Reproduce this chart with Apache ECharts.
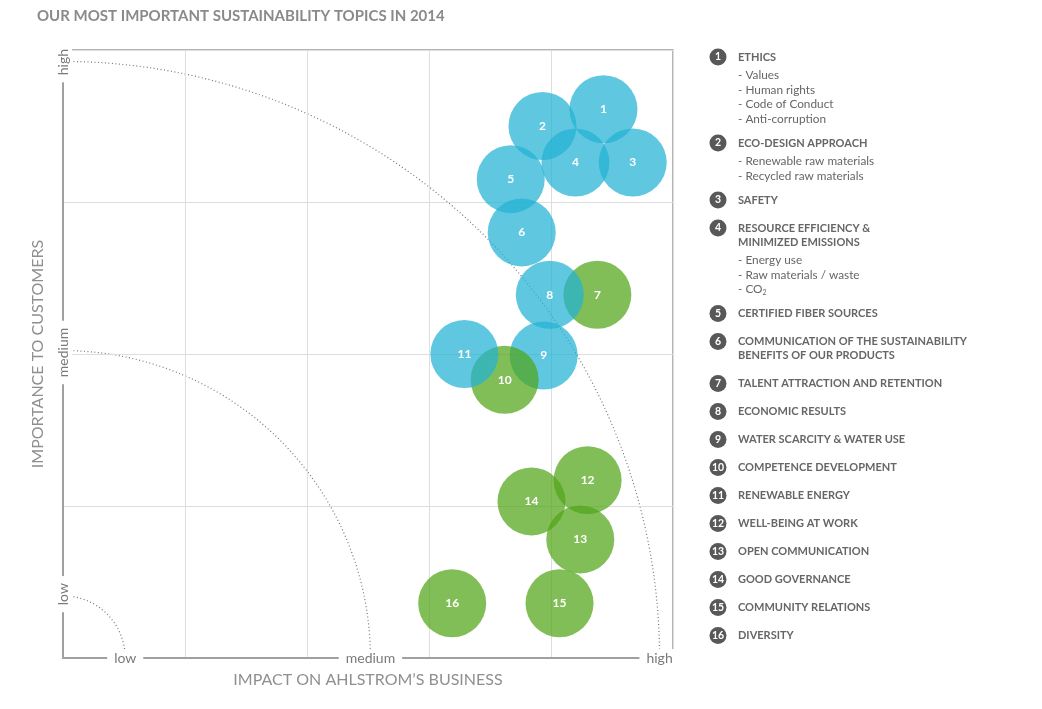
<!DOCTYPE html>
<html>
<head>
<meta charset="utf-8">
<title>Sustainability topics 2014</title>
<script src="https://cdn.jsdelivr.net/npm/echarts@6/dist/echarts.min.js"></script>
<style>
  html, body { margin: 0; padding: 0; background: #fff; }
  #main { width: 1042px; height: 709px; }
</style>
</head>
<body>
<div id="main"></div>
<script>
// 话题编号与坐标（x: 对业务的影响, y: 对客户的重要性）
const topicIds = [1, 2, 3, 4, 5, 6, 7, 8, 9, 10, 11, 12, 13, 14, 15, 16]
const impact = [4.43, 3.93, 4.67, 4.20, 3.67, 3.76, 4.38, 3.99, 3.94, 3.62, 3.29, 4.30, 4.24, 3.84, 4.07, 3.19]
const importance = [3.61, 3.50, 3.26, 3.26, 3.15, 2.80, 2.39, 2.39, 1.99, 1.83, 2.00, 1.17, 0.78, 1.03, 0.36, 0.36]
const topicGroup = ['blue', 'blue', 'blue', 'blue', 'blue', 'blue', 'green', 'blue',
  'blue', 'green', 'blue', 'green', 'green', 'green', 'green', 'green']
// 右侧说明
const topicTitles = [
  ['ETHICS'],
  ['ECO-DESIGN APPROACH'],
  ['SAFETY'],
  ['RESOURCE EFFICIENCY &', 'MINIMIZED EMISSIONS'],
  ['CERTIFIED FIBER SOURCES'],
  ['COMMUNICATION OF THE SUSTAINABILITY', 'BENEFITS OF OUR PRODUCTS'],
  ['TALENT ATTRACTION AND RETENTION'],
  ['ECONOMIC RESULTS'],
  ['WATER SCARCITY & WATER USE'],
  ['COMPETENCE DEVELOPMENT'],
  ['RENEWABLE ENERGY'],
  ['WELL-BEING AT WORK'],
  ['OPEN COMMUNICATION'],
  ['GOOD GOVERNANCE'],
  ['COMMUNITY RELATIONS'],
  ['DIVERSITY']
]
const topicDetails = [
  ['- Values', '- Human rights', '- Code of Conduct', '- Anti-corruption'],
  ['- Renewable raw materials', '- Recycled raw materials'],
  [],
  ['- Energy use', '- Raw materials / waste', '- CO{sub|2}'],
  [], [], [], [], [], [], [], [], [], [], [], []
]
// 轴上的 low / medium / high
const levelNames = ['low', 'medium', 'high']
const xLevelPos = [0.51, 2.52, 4.89]
const yLevelPos = [0.42, 2.01, 3.92]

const groupColor = {
  blue: 'rgba(35,178,212,0.72)',
  green: 'rgba(81,165,24,0.72)'
}
const font = 'Lato, "Open Sans", sans-serif'

const chart = echarts.init(document.getElementById('main'))

const levelLabel = (posList) => ({
  customValues: posList,
  formatter: function (v) {
    const i = posList.indexOf(v)
    return i < 0 ? '' : levelNames[i]
  },
  margin: -9,
  backgroundColor: '#fff',
  padding: [2, 7],
  color: '#7a7a7a',
  fontSize: 14,
  fontFamily: font
})

const option = {
  animation: false,
  title: {
    text: 'OUR MOST IMPORTANT SUSTAINABILITY TOPICS IN 2014',
    left: 32,
    top: 4,
    textStyle: { fontFamily: font, fontSize: 15, fontWeight: 'bold', color: '#8a8a8a' }
  },
  grid: {
    left: 63, right: 369, top: 50, bottom: 51,
    show: true,
    borderColor: '#9c9c9c',
    borderWidth: 1.5
  },
  xAxis: {
    type: 'value',
    min: 0, max: 5, interval: 1,
    name: 'IMPACT ON AHLSTROM\u2019S BUSINESS',
    nameLocation: 'middle',
    nameGap: 11,
    nameTextStyle: { fontFamily: font, fontSize: 16, color: '#8f8f8f' },
    axisLine: { show: true, lineStyle: { color: '#a0a0a0', width: 2 } },
    axisTick: { show: false },
    splitLine: { show: true, lineStyle: { color: '#dedede', width: 1 } },
    axisLabel: levelLabel(xLevelPos)
  },
  yAxis: {
    type: 'value',
    min: 0, max: 4, interval: 1,
    name: 'IMPORTANCE TO CUSTOMERS',
    nameLocation: 'middle',
    nameGap: 8,
    nameTextStyle: { fontFamily: font, fontSize: 16, color: '#8f8f8f' },
    axisLine: { show: true, lineStyle: { color: '#a0a0a0', width: 2 } },
    axisTick: { show: false },
    splitLine: { show: true, lineStyle: { color: '#dedede', width: 1 } },
    axisLabel: Object.assign(levelLabel(yLevelPos), { rotate: 90 })
  },
  series: [{
    type: 'scatter',
    symbolSize: 68,
    z: 3,
    itemStyle: { opacity: 1 },
    data: topicIds.map((id, i) => ({
      name: String(id),
      value: [impact[i], importance[i]],
      itemStyle: { color: groupColor[topicGroup[i]], opacity: 1 }
    })),
    label: {
      show: true,
      position: 'inside',
      formatter: '{b}',
      color: '#fff',
      fontSize: 12,
      fontWeight: 'bold',
      fontFamily: font
    },
    emphasis: { disabled: true }
  }]
}
chart.setOption(option)

// 虚线四分之一圆弧，圆心在原点
const origin = chart.convertToPixel({ gridIndex: 0 }, [0, 0])
const arcs = xLevelPos.map(r => {
  const edge = chart.convertToPixel({ gridIndex: 0 }, [r, 0])
  return {
    type: 'arc',
    silent: true,
    z: -1,
    shape: { cx: origin[0], cy: origin[1], r: edge[0] - origin[0], startAngle: -Math.PI / 2, endAngle: 0, clockwise: true },
    style: { fill: null, stroke: '#777', lineWidth: 1.2, lineDash: [1, 2.5] }
  }
})

// 右侧编号说明
const legendItems = []
let y = 57
topicIds.forEach((id, i) => {
  legendItems.push({
    type: 'circle',
    shape: { cx: 718, cy: y, r: 8.5 },
    style: { fill: '#585858' }
  })
  legendItems.push({
    type: 'text',
    x: 718, y: y,
    style: { text: String(id), fill: '#fff', fontSize: 10.5, fontWeight: 'bold', fontFamily: font, align: 'center', verticalAlign: 'middle' }
  })
  topicTitles[i].forEach((t, k) => {
    legendItems.push({
      type: 'text',
      x: 738, y: y + 14 * k,
      style: { text: t, fill: '#666', fontSize: 11, fontWeight: 'bold', fontFamily: font, verticalAlign: 'middle' }
    })
  })
  const last = y + 14 * (topicTitles[i].length - 1)
  const details = topicDetails[i]
  if (details.length) {
    details.forEach((d, k) => {
      legendItems.push({
        type: 'text',
        x: 738, y: last + 18.5 + 14.5 * k,
        style: {
          text: d, fill: '#666', fontSize: 11.8, fontFamily: font, verticalAlign: 'middle',
          rich: { sub: { fontSize: 7, fontFamily: font, fill: '#666', padding: [6, 0, 0, 0] } }
        }
      })
    })
    y = last + 18.5 + 14.5 * (details.length - 1) + 24
  } else {
    y = last + 28
  }
})

chart.setOption({
  graphic: { elements: arcs.concat(legendItems) }
})
</script>
</body>
</html>
